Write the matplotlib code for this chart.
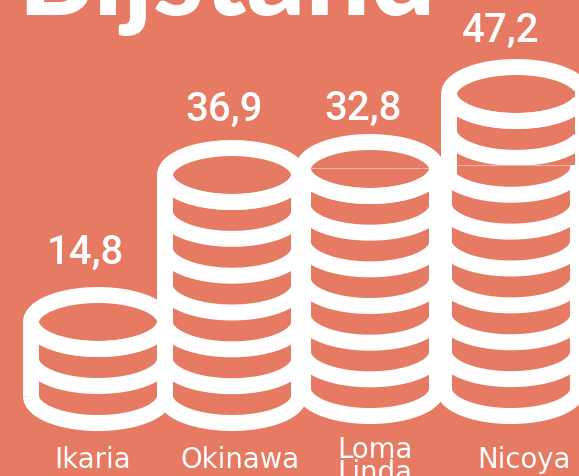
import matplotlib
matplotlib.use("Agg")
import matplotlib.pyplot as plt
import numpy as np

# chart data
places = ["Ikaria", "Okinawa", "Loma\nLinda", "Nicoya"]
values = ["14,8", "36,9", "32,8", "47,2"]
coins = [3, 7, 7, 9]

# layout in pixels
BG = "#E67A62"
W, H = 579, 477
centers = [98, 232, 370, 516]
tops = [323, 176, 170, 95]
bottoms = [397, 397, 390, 390]
value_x = [85, 224, 363, 501]
value_y = [264, 121, 120, 42]
label_x = [93, 240, 375, 524]
RX, RY = 67, 27
THICK = 16
LW = THICK * 72 / 100


def stroke(ax, xs, ys):
    ax.plot(xs, ys, color="white", lw=LW, solid_capstyle="butt", solid_joinstyle="round", zorder=2)


def wall(ax, x, y0, y1):
    # filled, because agg drops stroked lines that lie outside the canvas
    ax.fill_betweenx([y0, y1], x - THICK / 2, x + THICK / 2, color="white", lw=0, zorder=2)


def drawStack(ax, cx, top, bottom, n, shift=0, step=None):
    t = np.linspace(0, 2 * np.pi, 200)
    stroke(ax, cx + RX * np.cos(t), top + RY * np.sin(t))

    gap = (bottom - top) / (n - 1)
    t = np.linspace(0, np.pi, 100)
    for k in range(n):
        y = top + k * gap
        x = cx - shift if step is not None and k >= step else cx
        stroke(ax, x + RX * np.cos(t), y + RY * np.sin(t))

    if step is None:
        wall(ax, cx - RX, top, bottom)
        wall(ax, cx + RX, top, bottom)
    else:
        # lower part of the pile sits a little to the left
        wall(ax, cx - RX, top, 185)
        wall(ax, cx - shift - RX, 185, bottom)
        wall(ax, cx + RX, top - 15, 166)
        wall(ax, cx - shift + RX, 166, bottom)


fig = plt.figure(figsize=(W / 100, H / 100), dpi=100, facecolor=BG)
ax = fig.add_axes([0, 0, 1, 1])
ax.set_xlim(0, W)
ax.set_ylim(H, 0)
ax.axis("off")

for i in range(len(places)):
    if places[i] == "Nicoya":
        drawStack(ax, centers[i], tops[i], bottoms[i], coins[i], shift=5, step=2)
    else:
        drawStack(ax, centers[i], tops[i], bottoms[i], coins[i])
    ax.text(value_x[i], value_y[i], values[i], color="white", fontsize=29, family="Roboto",
            weight="medium", ha="center", va="baseline", zorder=3)
    if "\n" in places[i]:
        ax.text(label_x[i], 458, places[i].split("\n")[0], color="white", fontsize=19.8,
                ha="center", va="baseline", zorder=3)
        ax.text(label_x[i], 481, places[i].split("\n")[1], color="white", fontsize=19.8,
                ha="center", va="baseline", zorder=3)
    else:
        ax.text(label_x[i], 468, places[i], color="white", fontsize=19.8,
                ha="center", va="baseline", zorder=3)

# faint seams left in the picture
ax.plot([312, 428], [169, 169], color="#F2B5A6", lw=0.7, zorder=3)
ax.plot([457, 570], [166, 166], color="#F2B5A6", lw=0.7, zorder=3)

ax.text(17, 15, "Bijstand", color="white", fontsize=82.5, family="Lato", weight="black",
        ha="left", va="baseline", zorder=3)

fig.savefig("out.png", dpi=100, facecolor=BG)
